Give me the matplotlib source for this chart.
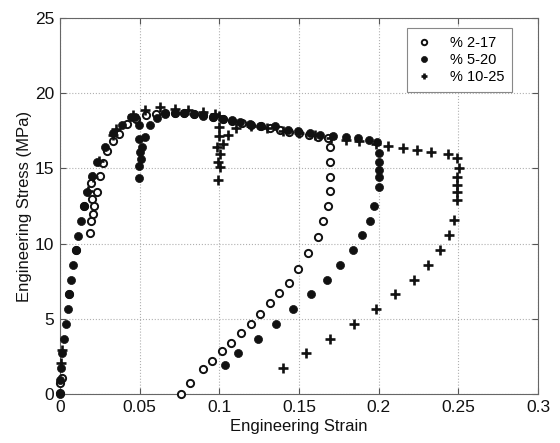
import matplotlib
matplotlib.use("Agg")
import matplotlib.pyplot as plt

plt.rcParams['font.family'] = ['Liberation Sans', 'DejaVu Sans']

# % 2-17 : unload at 2 % strain, reload, unload at 17 %
strain_a = [0.0, 0.0, 0.001, 0.0058, 0.0099, 0.0153,
            0.0195, 0.0199, 0.0195, 0.0188,
            0.0209, 0.0216, 0.023, 0.0251, 0.0272, 0.0293, 0.0335, 0.037, 0.0419, 0.048,
            0.054, 0.060, 0.066, 0.072, 0.078, 0.084, 0.090, 0.096, 0.102, 0.108,
            0.114, 0.120, 0.126, 0.132, 0.138, 0.144, 0.150, 0.156, 0.162, 0.168,
            0.1695, 0.1695, 0.1695, 0.1695,
            0.168, 0.1651, 0.1617, 0.1559, 0.1496, 0.1437, 0.1377, 0.1318, 0.1255,
            0.1197, 0.1136, 0.1073, 0.1017, 0.0956, 0.0895, 0.0818, 0.0759]
stress_a = [0.05, 0.7, 1.06, 6.63, 9.57, 12.5,
            14.0, 12.94, 11.52, 10.68,
            12.0, 12.5, 13.45, 14.5, 15.38, 16.16, 16.84, 17.3, 17.93, 18.26,
            18.55, 18.62, 18.66, 18.68, 18.66, 18.62, 18.55, 18.45, 18.3, 18.15,
            18.02, 17.9, 17.8, 17.68, 17.52, 17.42, 17.35, 17.22, 17.12, 17.0,
            16.44, 15.45, 14.45, 13.5,
            12.5, 11.52, 10.42, 9.35, 8.29, 7.4, 6.74, 6.03, 5.32,
            4.66, 4.04, 3.42, 2.88, 2.22, 1.64, 0.71, 0.0]

# % 5-20
strain_b = [0.0, 0.0003, 0.0006, 0.0014, 0.0027, 0.0038, 0.0048, 0.0058, 0.0069, 0.008,
            0.0099, 0.0115, 0.0132, 0.0153, 0.0171, 0.0203, 0.023, 0.0282, 0.0335, 0.039,
            0.0446, 0.0471,
            0.0498, 0.0498, 0.0502, 0.0496, 0.0498,
            0.0508, 0.0517, 0.0534, 0.0565, 0.0607,
            0.066, 0.072, 0.078, 0.084, 0.090, 0.096, 0.102, 0.108, 0.113, 0.119,
            0.1255, 0.135, 0.143, 0.1496, 0.1569, 0.1632, 0.1715, 0.1795, 0.1872, 0.1941,
            0.1987,
            0.2, 0.2, 0.2, 0.2, 0.2,
            0.1973, 0.1946, 0.1895, 0.1841, 0.1759, 0.1674, 0.1575, 0.1464, 0.1356, 0.124,
            0.112, 0.1038]
stress_b = [0.0, 0.9, 1.7, 2.7, 3.66, 4.65, 5.63, 6.63, 7.58, 8.58,
            9.57, 10.53, 11.52, 12.5, 13.45, 14.5, 15.45, 16.44, 17.33, 17.9,
            18.4, 18.45,
            17.9, 16.93, 16.1, 15.16, 14.34,
            15.6, 16.44, 17.1, 17.9, 18.33,
            18.6, 18.65, 18.65, 18.6, 18.5, 18.42, 18.3, 18.2, 18.1, 17.95,
            17.8, 17.84, 17.55, 17.5, 17.38, 17.24, 17.15, 17.11, 17.0, 16.89,
            16.78,
            16.0, 15.45, 14.9, 14.45, 13.74,
            12.5, 11.52, 10.55, 9.57, 8.58, 7.58, 6.63, 5.65, 4.66, 3.66,
            2.7, 1.93]

# % 10-25
strain_c = [0.0008, 0.0012, 0.0178, 0.0209, 0.0247, 0.0335, 0.0352, 0.0456, 0.0534, 0.0628,
            0.0722, 0.0805, 0.09, 0.0973,
            0.1, 0.1, 0.1, 0.0988, 0.0994, 0.0994,
            0.1004, 0.1004, 0.1021, 0.1057, 0.1105,
            0.12, 0.13, 0.14, 0.15, 0.16, 0.17, 0.1795, 0.1873, 0.1981, 0.2061,
            0.2155, 0.2243, 0.2327, 0.2434, 0.2494,
            0.2505, 0.2494, 0.2494, 0.2494, 0.2494,
            0.2469, 0.2441, 0.2385, 0.2312, 0.2222, 0.2103, 0.1981, 0.1845, 0.1695, 0.1542,
            0.1402]
stress_c = [2.06, 2.9, 13.47, 14.46, 15.46, 17.2, 17.65, 18.55, 18.85, 19.05,
            18.98, 18.88, 18.75, 18.62,
            18.48, 17.77, 17.15, 16.4, 15.45, 14.23,
            15.07, 15.96, 16.62, 17.22, 17.7,
            17.85, 17.7, 17.5, 17.35, 17.2, 17.05, 16.89, 16.85, 16.6, 16.49,
            16.38, 16.22, 16.07, 15.94, 15.67,
            15.0, 14.45, 13.9, 13.41, 12.9,
            11.6, 10.55, 9.57, 8.58, 7.58, 6.63, 5.63, 4.65, 3.66, 2.7,
            1.71]

labels = ['% 2-17', '% 5-20', '% 10-25']
xticks = [0, 0.05, 0.1, 0.15, 0.2, 0.25, 0.3]
xticklabels = ['0', '0.05', '0.1', '0.15', '0.2', '0.25', '0.3']
yticks = [0, 5, 10, 15, 20, 25]

fig = plt.figure(figsize=(5.6, 4.43), dpi=100)
ax = fig.add_axes([0.107, 0.1106, 0.854, 0.8488])

ink = '#111111'
ax.plot(strain_a, stress_a, 'o', ls='none', ms=5.2, mfc='white', mec=ink, mew=1.4,
        label=labels[0], clip_on=False, zorder=3)
ax.plot(strain_b, stress_b, 'o', ls='none', ms=5.8, mfc=ink, mec=ink, mew=0.5,
        label=labels[1], clip_on=False, zorder=4)
ax.plot(strain_c, stress_c, '+', ls='none', ms=6.5, mec=ink, mew=1.9,
        label=labels[2], clip_on=False, zorder=5)

ax.set_xlim(0, 0.3)
ax.set_ylim(0, 25)
ax.set_xticks(xticks)
ax.set_xticklabels(xticklabels)
ax.set_yticks(yticks)
ax.tick_params(direction='in', length=4, width=0.8, top=True, right=True,
               labelsize=12.5, colors='#555555', labelcolor='#111111')
ax.tick_params(axis='x', pad=4)
ax.tick_params(axis='y', pad=4)
ax.grid(True, linestyle=':', color='#b0b0b0', linewidth=0.8)
ax.set_axisbelow(True)
for s in ax.spines.values():
    s.set_color('#666666')
    s.set_linewidth(0.8)

ax.set_xlabel('Engineering Strain', fontsize=12, color='#111111', labelpad=3)
ax.set_ylabel('Engineering Stress (MPa)', fontsize=12, color='#111111', labelpad=2)

leg = ax.legend(loc='upper right', bbox_to_anchor=(0.946, 0.973), fontsize=10.5,
                frameon=True, fancybox=False, edgecolor='#888888', framealpha=1,
                handlelength=1.2, handletextpad=1.2, borderpad=0.55, labelspacing=0.2,
                markerscale=0.75, borderaxespad=0.0)
leg.get_frame().set_linewidth(0.8)

fig.savefig('out.png', dpi=100)
